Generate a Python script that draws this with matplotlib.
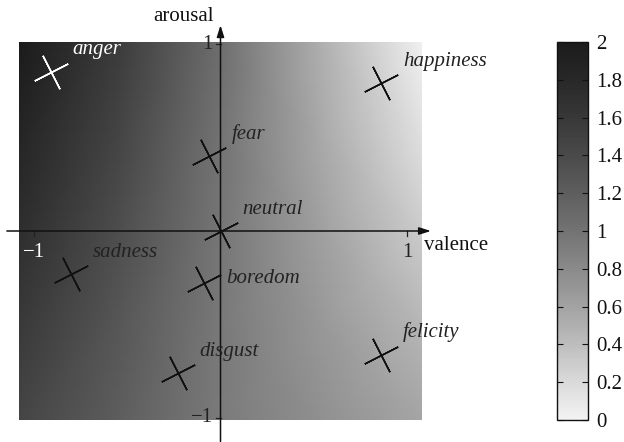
import numpy as np
import matplotlib
matplotlib.use("Agg")
import matplotlib.pyplot as plt
from matplotlib.colors import LinearSegmentedColormap
from matplotlib.ticker import FuncFormatter
from matplotlib import font_manager

serif_names = [f.name for f in font_manager.fontManager.ttflist if "Serif" in f.name]
plt.rcParams["font.family"] = "serif"
plt.rcParams["font.serif"] = ["Liberation Serif", "DejaVu Serif"]

# Emotion positions in the valence/arousal plane
emotions = ["anger", "happiness", "fear", "neutral", "sadness", "boredom", "disgust", "felicity"]
valence = [-0.91, 0.86, -0.06, 0.0, -0.80, -0.09, -0.23, 0.86]
arousal = [0.85, 0.79, 0.40, 0.0, -0.23, -0.28, -0.76, -0.66]

# Sampled field on a coarse grid (rows: arousal, columns: valence)
grid_valence = [-1.08, -0.54, 0.0, 0.54, 1.08]
grid_arousal = [1.01, 0.5, 0.0, -0.5, -1.01]
field = [
    [2.00, 1.55, 1.05, 0.50, 0.02],
    [1.85, 1.45, 1.00, 0.55, 0.15],
    [1.72, 1.36, 0.97, 0.62, 0.30],
    [1.58, 1.27, 0.95, 0.68, 0.45],
    [1.45, 1.20, 0.93, 0.75, 0.58],
]
cbar_ticks = [0, 0.2, 0.4, 0.6, 0.8, 1, 1.2, 1.4, 1.6, 1.8, 2]

# Gray ramp from near-white (0) to near-black (2)
ramp = ["#f3f3f3", "#dadada", "#bdbdbd", "#a2a2a2", "#8a8a8a", "#737373",
        "#5e5e5e", "#4a4a4a", "#383838", "#282828", "#1b1b1b"]
cmap = LinearSegmentedColormap.from_list("soft_gray", ramp)

W, H = 624, 442
fig = plt.figure(figsize=(W / 100, H / 100), dpi=100)

ax = fig.add_axes([19 / W, 22 / H, 403 / W, 378 / H])
V, A = np.meshgrid(grid_valence, grid_arousal)
mesh = ax.pcolormesh(V, A, np.array(field), shading="gouraud", cmap=cmap, vmin=0, vmax=2)
ax.set_xlim(-1.08, 1.08)
ax.set_ylim(-1.01, 1.01)
ax.set_axis_off()

# Coordinate axes with arrow heads
ax.annotate("", xy=(1.128, 0), xytext=(-1.145, 0), xycoords="data",
            arrowprops=dict(arrowstyle="-|>,head_length=0.7,head_width=0.22", lw=1.1,
                            color="#111111", shrinkA=0, shrinkB=0), annotation_clip=False)
ax.annotate("", xy=(0, 1.10), xytext=(0, -1.125), xycoords="data",
            arrowprops=dict(arrowstyle="-|>,head_length=0.7,head_width=0.22", lw=1.1,
                            color="#111111", shrinkA=0, shrinkB=0), annotation_clip=False)

# Axis ticks at +/-1
for xv in (-1, 1):
    ax.plot([xv, xv], [0, -0.025], color="#222222", lw=0.9, clip_on=False)
for yv in (-1, 1):
    ax.plot([0, -0.025], [yv, yv], color="#222222", lw=0.9, clip_on=False)

fs = 15
ax.text(-1.0, -0.115, "\u22121", color="white", fontsize=fs, ha="center", va="center")
ax.text(1.0, -0.115, "1", color="#222222", fontsize=fs, ha="center", va="center")
ax.text(-0.04, 0.995, "1", color="#222222", fontsize=fs, ha="right", va="center")
ax.text(-0.04, -0.995, "\u22121", color="#222222", fontsize=fs, ha="right", va="center")
ax.text(-0.035, 1.145, "arousal", color="#111111", fontsize=fs, ha="right", va="center")
ax.text(1.09, -0.08, "valence", color="#111111", fontsize=fs, ha="left", va="center")

# Emotion markers and labels
for name, v, a in zip(emotions, valence, arousal):
    col = "white" if name == "anger" else "#111111"
    ax.plot(v, a, linestyle="none", marker=(4, 2, 27), markersize=27,
            markeredgewidth=1.1, color=col, markeredgecolor=col)
    off = (23, 5) if name == "boredom" else (22, 22)
    ax.annotate(name, (v, a), xytext=off, textcoords="offset pixels",
                fontsize=fs, style="italic", color="white" if name == "anger" else "#222222",
                ha="left", va="center", annotation_clip=False)

# Colour bar
cax = fig.add_axes([557 / W, 22 / H, 31 / W, 378 / H])
cb = fig.colorbar(mesh, cax=cax, ticks=cbar_ticks)
cb.outline.set_linewidth(1.0)
cb.outline.set_edgecolor("#111111")
cax.yaxis.set_major_formatter(FuncFormatter(lambda x, p: f"{x:g}"))
cax.tick_params(axis="y", direction="in", left=True, right=True, length=4,
                width=0.8, labelsize=fs, pad=6, colors="#111111")

print(sorted(set(serif_names)))
fig.savefig("out.png", dpi=100)
